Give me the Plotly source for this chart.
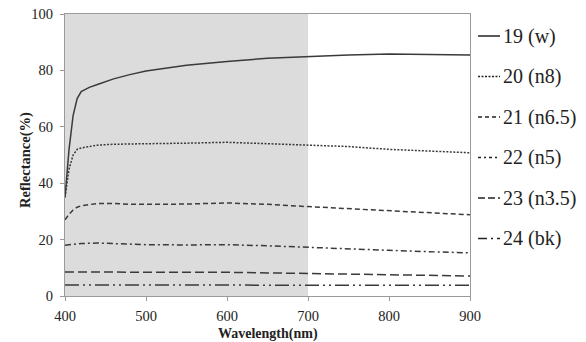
import plotly.graph_objects as go

wavelength = [400, 405, 410, 415, 420, 430, 440, 460, 480, 500, 550, 600, 650, 700, 750, 800, 850, 900]
r19_w = [35, 52, 64, 70, 72.5, 74, 75, 77, 78.5, 79.8, 81.8, 83.2, 84.3, 85, 85.5, 85.8, 85.7, 85.5]
r20_n8 = [35, 45, 50, 52, 52.5, 53, 53.5, 53.8, 54, 54, 54.2, 54.5, 54, 53.5, 53, 52, 51.5, 50.8]
r21_n65 = [27, 29, 30.5, 31.5, 32, 32.5, 32.8, 32.8, 32.5, 32.5, 32.6, 33, 32.5, 31.7, 31, 30.2, 29.5, 28.8]
r22_n5 = [18, 18.2, 18.4, 18.5, 18.6, 18.7, 18.8, 18.6, 18.4, 18.2, 18.1, 18.2, 17.8, 17.2, 16.7, 16.2, 15.7, 15.3]
r23_n35 = [8.5, 8.5, 8.5, 8.5, 8.5, 8.6, 8.6, 8.6, 8.5, 8.4, 8.4, 8.4, 8.2, 8.0, 7.8, 7.6, 7.3, 7.1]
r24_bk = [3.9, 3.9, 3.9, 3.9, 3.9, 3.9, 3.9, 3.9, 3.9, 3.9, 3.9, 3.9, 3.9, 3.9, 3.9, 3.9, 3.8, 3.8]

names = ["19 (w)", "20 (n8)", "21 (n6.5)", "22 (n5)", "23 (n3.5)", "24 (bk)"]
series = [r19_w, r20_n8, r21_n65, r22_n5, r23_n35, r24_bk]
dashes = ["solid", "2px,1.5px", "5px,3px", "6px,3px,2px,3px", "9px,4px", "14px,4px,2px,4px,2px,4px"]
legend_dashes = ["solid", "2px,1.5px", "4px,3px", "3px,3px,2px,3px", "7px,3px", "9px,4px,2px,4px"]

shade_x = [400, 700]
x_ticks = [400, 500, 600, 700, 800, 900]
y_ticks = [0, 20, 40, 60, 80, 100]

W, H = 586, 342
L, R, T, B = 65, 116, 14, 46
font_family = "Liberation Serif"
line_color = "#3a3a3a"

fig = go.Figure()
for n, s, d in zip(names, series, dashes):
    fig.add_trace(go.Scatter(x=wavelength, y=s, name=n, mode="lines", showlegend=False,
                             line=dict(color=line_color, width=1.5, dash=d)))

fig.add_shape(type="rect", xref="x", yref="y", x0=shade_x[0], x1=shade_x[1], y0=0, y1=100,
              fillcolor="#dcdcdc", line=dict(width=0), layer="below")

pw = W - L - R
ph = H - T - B
def px_x(px):
    return (px - L) / pw
def px_y(py):
    return (H - B - py) / ph

for i, (n, d) in enumerate(zip(names, legend_dashes)):
    yc = 36 + i * 40.5
    fig.add_shape(type="line", xref="paper", yref="paper",
                  x0=px_x(478), x1=px_x(500), y0=px_y(yc), y1=px_y(yc),
                  line=dict(color="#222222", width=1.5, dash=d))
    fig.add_annotation(xref="paper", yref="paper", x=px_x(501), y=px_y(yc),
                       text=n, showarrow=False, xanchor="left", yanchor="middle",
                       font=dict(family=font_family, size=20, color="#222222"))

fig.add_annotation(xref="paper", yref="paper", x=px_x(268), y=px_y(334),
                   text="<b>Wavelength(nm)</b>", showarrow=False,
                   xanchor="center", yanchor="middle",
                   font=dict(family=font_family, size=14, color="#222222"))
fig.add_annotation(xref="paper", yref="paper", x=px_x(25), y=px_y(160),
                   text="<b>Reflectance(%)</b>", showarrow=False, textangle=-90,
                   xanchor="center", yanchor="middle",
                   font=dict(family=font_family, size=14.5, color="#222222"))

fig.update_layout(
    width=W, height=H,
    margin=dict(l=L, r=R, t=T, b=B, autoexpand=False),
    paper_bgcolor="white", plot_bgcolor="white",
    showlegend=False,
    font=dict(family=font_family, color="#222222", size=14),
    xaxis=dict(range=[400, 900], tickvals=x_ticks, showgrid=False, zeroline=False,
               showline=True, linecolor="#9a9a9a", linewidth=1, mirror=True,
               ticks="outside", ticklen=4, tickcolor="#9a9a9a", automargin=False,
               ticklabelstandoff=3, ticklabeloverflow="allow",
               tickfont=dict(size=14.5, family=font_family)),
    yaxis=dict(range=[0, 100], tickvals=y_ticks, showgrid=False, zeroline=False,
               showline=True, linecolor="#9a9a9a", linewidth=1, mirror=True,
               ticks="outside", ticklen=4, tickcolor="#9a9a9a", automargin=False,
               ticklabelstandoff=4, ticklabeloverflow="allow",
               tickfont=dict(size=14.5, family=font_family)),
)

fig.write_html("out.html", config={"displayModeBar": False},
               post_script="document.body.style.margin='0';document.body.style.overflow='hidden';")
